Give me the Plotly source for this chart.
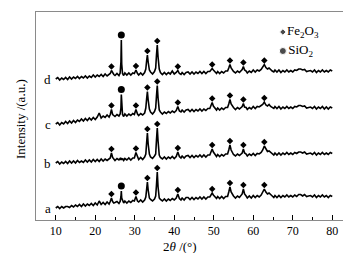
import numpy as np
import plotly.graph_objects as go

# 2-theta grid shared by all four patterns (denser around the reflections)
two_theta = [
    10.0, 10.5, 11.0, 11.5, 12.0, 12.5, 13.0, 13.5, 14.0, 14.5, 15.0, 15.5, 16.0, 16.5,
    17.0, 17.5, 18.0, 18.5, 19.0, 19.5, 20.0, 20.5, 21.0, 21.5, 22.0, 22.5, 23.0, 23.5,
    23.8, 24.1, 24.4, 24.7,
    25.0, 25.5, 26.0, 26.3,
    26.5, 26.6, 26.7,
    26.9, 27.2, 27.5, 28.0, 28.5, 29.0, 29.5, 29.9,
    30.3, 30.7,
    31.0, 31.5, 32.0, 32.5,
    32.8, 33.0, 33.2, 33.4, 33.7,
    34.0, 34.5, 35.0,
    35.3, 35.5, 35.7, 35.9, 36.2,
    36.5, 37.0, 37.5, 38.0, 38.5, 39.0, 39.5, 40.0, 40.5,
    40.9, 41.3,
    41.7, 42.0, 42.5, 43.0, 43.5, 44.0, 44.5, 45.0, 45.5, 46.0, 46.5, 47.0, 47.5, 48.0, 48.5, 49.0,
    49.3, 49.6, 49.9, 50.3,
    50.7, 51.0, 51.5, 52.0, 52.5, 53.0, 53.5,
    53.8, 54.1, 54.4, 54.8,
    55.0, 55.5, 56.0, 56.5, 57.0,
    57.2, 57.5, 57.8,
    58.2, 58.5, 59.0, 59.5, 60.0, 60.5, 61.0, 61.5, 62.0,
    62.4, 62.8, 63.2, 63.6, 64.0, 64.4, 64.8,
    65.2, 65.5, 66.0, 66.5, 67.0, 67.5, 68.0, 68.5, 69.0, 69.5, 70.0, 70.5, 71.0, 71.5, 72.0, 72.5,
    73.0, 73.5, 74.0, 74.5, 75.0, 75.5, 76.0, 76.5, 77.0, 77.5, 78.0, 78.5, 79.0, 79.5, 80.0,
]

# intensities (a.u., curves already stacked)
int_a = [
    12, 13.5, 11.5, 13.5, 12, 13.5, 13.5, 12.5, 14.5, 13, 15, 13.5, 15.5, 13.5,
    16, 14, 16, 14.5, 16.5, 14.5, 17, 15, 19, 15.5, 17.5, 15.5, 18, 16,
    18.5, 22, 18.5, 17,
    17.5, 18.5, 16.5, 18.5,
    23, 29, 22,
    19, 17, 19, 17, 19, 17.5, 19.5, 19,
    23.5, 19,
    18, 20, 18, 20,
    23, 31, 38, 30, 22,
    20.5, 19, 21,
    24, 35, 48, 33, 22,
    20.5, 19, 21, 19, 21, 19.5, 21.5, 20, 22,
    26, 21.5,
    20, 22, 20, 22.5, 22.5, 20.5, 22.5, 20.5, 22.5, 21, 23, 21, 23, 21, 23, 23,
    25, 27, 25, 23,
    21.5, 23.5, 21.5, 23.5, 21.5, 23.5, 23.5,
    28, 33, 28, 24.5,
    24, 22, 24, 22.5, 24.5,
    26, 31, 26,
    24, 22, 24, 22, 24.5, 22.5, 24.5, 23, 25,
    27.5, 31, 28, 26, 27, 25, 24,
    22.5, 24.5, 22.5, 24.5, 22.5, 24.5, 23, 25, 23, 24.5, 23, 25, 23.5, 25.5, 25.5, 24,
    25.5, 23.5, 24, 24.5, 23, 25, 22.5, 24.5, 23, 25, 23, 24.5, 22.5, 24.5, 23.5,
]

int_b = [
    57, 58.5, 56, 58, 56.5, 58.5, 56.5, 59, 57, 59, 57, 59.5, 57.5, 59,
    57.5, 60, 58, 60, 58, 60.5, 58.5, 60.5, 58.5, 61, 59, 61, 59.5, 61.5,
    62, 67, 62.5, 61,
    59.5, 61.5, 60, 61.5,
    60, 62, 60,
    61.5, 59.5, 61.5, 60, 62, 60, 62, 62,
    67.5, 62,
    60.5, 62.5, 60.5, 63,
    66, 77, 87, 76, 66,
    63, 61.5, 64,
    66, 80, 92, 79, 65,
    62.5, 61, 63, 61, 63, 61.5, 63.5, 61.5, 63.5,
    68, 63.5,
    62, 64, 62, 64, 64.5, 62.5, 64.5, 62.5, 64.5, 63, 65, 63, 65, 63, 65, 65,
    68, 71, 68, 65.5,
    63.5, 65.5, 63.5, 65.5, 64, 66, 66,
    70, 75, 70, 66.5,
    65.5, 64, 66, 64.5, 66.5,
    67, 71, 67,
    66, 64, 66, 64.5, 66.5, 64.5, 66.5, 66, 67.5,
    70, 74, 70.5, 68.5, 69, 67.5, 66.5,
    65, 67, 65, 67, 65, 67, 65.5, 67.5, 65.5, 67, 65.5, 67.5, 66.5, 68, 68, 67,
    68, 66, 66.5, 67, 65.5, 67.5, 65, 67, 65.5, 67.5, 65.5, 67, 65.5, 67.5, 66.5,
]

int_c = [
    96, 97.5, 95, 97.5, 96, 98.5, 96.5, 99, 97, 99.5, 97.5, 100, 98.5, 101,
    99, 101.5, 99.5, 102, 100, 102.5, 100.5, 103, 107, 102, 104, 102.5, 105, 103,
    105.5, 110.5, 105.5, 104.5,
    103.5, 105.5, 104, 106,
    112, 125.5, 111,
    105.5, 103.5, 106, 104, 106, 104.5, 106.5, 105.5,
    110.5, 106,
    104.5, 106.5, 105, 107,
    112, 121, 128.5, 120, 111,
    108, 106, 108.5,
    112, 124, 134.5, 122, 110,
    108, 106, 108, 106.5, 108.5, 107, 109, 107.5, 109.5,
    113.5, 109,
    108, 110, 108, 110, 110.5, 108.5, 110.5, 108.5, 110.5, 109, 111, 109, 111, 109.5, 111.5, 111.5,
    114, 117.5, 114, 111.5,
    110, 112, 110, 112, 110.5, 112.5, 112.5,
    116, 120.5, 116, 113,
    112.5, 110.5, 112.5, 111, 113,
    113.5, 116.5, 113,
    112.5, 110.5, 112.5, 111, 113.5, 111.5, 113.5, 113, 114.5,
    115.5, 118, 115, 114, 115.5, 113.5, 112.5,
    111.5, 113.5, 111.5, 113.5, 111, 113, 111.5, 113.5, 111.5, 113, 111.5, 113.5, 113, 114.5, 114.5, 113.5,
    114, 112, 112.5, 113, 111.5, 113.5, 111, 113, 111.5, 113.5, 111, 113, 111, 113, 112,
]

int_d = [
    141, 142.5, 140, 142, 140.5, 142.5, 140.5, 143, 141, 143, 141.5, 143.5, 141.5, 143.5,
    142, 144, 142, 144, 142.5, 145, 143, 145, 143.5, 145.5, 143.5, 146, 144, 146,
    146.5, 149.5, 146.5, 145.5,
    144.5, 146.5, 144.5, 147,
    158, 180, 156,
    146.5, 144.5, 147, 145, 147, 145, 147, 146.5,
    150, 146.5,
    145, 147, 145, 147.5,
    151, 159, 165, 158, 150,
    148, 146, 148.5,
    152, 165, 175, 163, 151,
    147.5, 145.5, 147.5, 145.5, 147.5, 146, 149, 146, 147.5,
    149.5, 146.5,
    145.5, 147.5, 145.5, 147.5, 148, 146, 148, 146, 148, 146.5, 148.5, 146.5, 148.5, 146.5, 148.5, 148.5,
    150, 151.5, 150, 148.5,
    146.5, 148.5, 146.5, 148.5, 147, 149, 149,
    152, 155.5, 152, 149.5,
    148.5, 147, 149, 147.5, 149.5,
    150.5, 153.5, 150,
    149, 147, 149, 147.5, 150, 148, 150, 149, 150.5,
    152.5, 155.5, 152.5, 151, 152, 150, 149,
    148, 150, 148, 150, 147.5, 149.5, 148, 150, 148, 149.5, 148, 150, 149.5, 151, 151, 150,
    150.5, 148.5, 149, 149.5, 148, 150, 147.5, 149.5, 148, 150, 148, 149.5, 148, 150, 149,
]

sample_labels = ["a", "b", "c", "d"]
fe2o3_peaks = [24.1, 30.3, 33.2, 35.7, 40.9, 49.6, 54.1, 57.5, 62.8]
sio2_peaks = {"a": [26.6], "b": [], "c": [26.6], "d": [26.6]}

curves = {"a": int_a, "b": int_b, "c": int_c, "d": int_d}
for k, v in curves.items():
    assert len(v) == len(two_theta), (k, len(v), len(two_theta))

tt = np.array(two_theta)
FONT = "Liberation Serif, Times New Roman, serif"


def peak_top(vals, pos):
    # highest point of the pattern close to a reflection
    win = np.abs(tt - pos) <= 0.25
    return float(np.max(np.array(vals)[win]))


fig = go.Figure()

for lab in sample_labels:
    fig.add_trace(go.Scatter(x=two_theta, y=curves[lab], mode="lines",
                             line=dict(color="black", width=1.6), showlegend=False))
    fe_y = [peak_top(curves[lab], p) + 4 for p in fe2o3_peaks]
    fig.add_trace(go.Scatter(x=fe2o3_peaks, y=fe_y, mode="markers",
                             marker=dict(symbol="diamond", size=5, color="black"),
                             showlegend=False))
    if sio2_peaks[lab]:
        si_y = [peak_top(curves[lab], p) + 5 for p in sio2_peaks[lab]]
        fig.add_trace(go.Scatter(x=sio2_peaks[lab], y=si_y, mode="markers",
                                 marker=dict(symbol="circle", size=7, color="black"),
                                 showlegend=False))
    # sample letter at the left end of each pattern
    fig.add_annotation(x=8.0, y=curves[lab][0], text=lab, showarrow=False,
                       font=dict(family=FONT, size=13, color="black"),
                       xanchor="center", yanchor="middle")

# phase key, top right
fig.add_trace(go.Scatter(x=[67.5, 67.5], y=[188, 169], mode="markers+text",
                         marker=dict(symbol=["diamond", "circle"], size=[5, 7], color="black"),
                         text=["Fe<sub>2</sub>O<sub>3</sub>", "SiO<sub>2</sub>"],
                         textposition="middle right",
                         textfont=dict(family=FONT, size=13, color="black"),
                         showlegend=False))

fig.add_annotation(x=0.456, y=-0.125, xref="paper", yref="paper",
                   text="2<i>θ</i> /(°)", showarrow=False,
                   font=dict(family=FONT, size=13, color="black"),
                   xanchor="center", yanchor="middle")
fig.add_annotation(x=-0.047, y=0.486, xref="paper", yref="paper",
                   text="Intensity /(a.u.)", showarrow=False, textangle=-90,
                   font=dict(family=FONT, size=13, color="black"),
                   xanchor="center", yanchor="middle")

fig.update_xaxes(range=[5, 85], tickvals=[10, 20, 30, 40, 50, 60, 70, 80],
                 ticks="inside", ticklen=5, tickcolor="black",
                 minor=dict(ticks="inside", ticklen=3, tickcolor="black", dtick=10, tick0=5),
                 showline=True, linecolor="#8a8a8a", linewidth=1, mirror=True,
                 showgrid=False, zeroline=False,
                 tickfont=dict(family=FONT, size=12, color="black"))
fig.update_yaxes(range=[0, 208], showticklabels=False, ticks="",
                 showline=True, linecolor="#8a8a8a", linewidth=1, mirror=True,
                 showgrid=False, zeroline=False)

fig.update_layout(width=351, height=253, margin=dict(l=28, r=7, t=4, b=41),
                  paper_bgcolor="white", plot_bgcolor="white")

fig.write_html("out.html")
